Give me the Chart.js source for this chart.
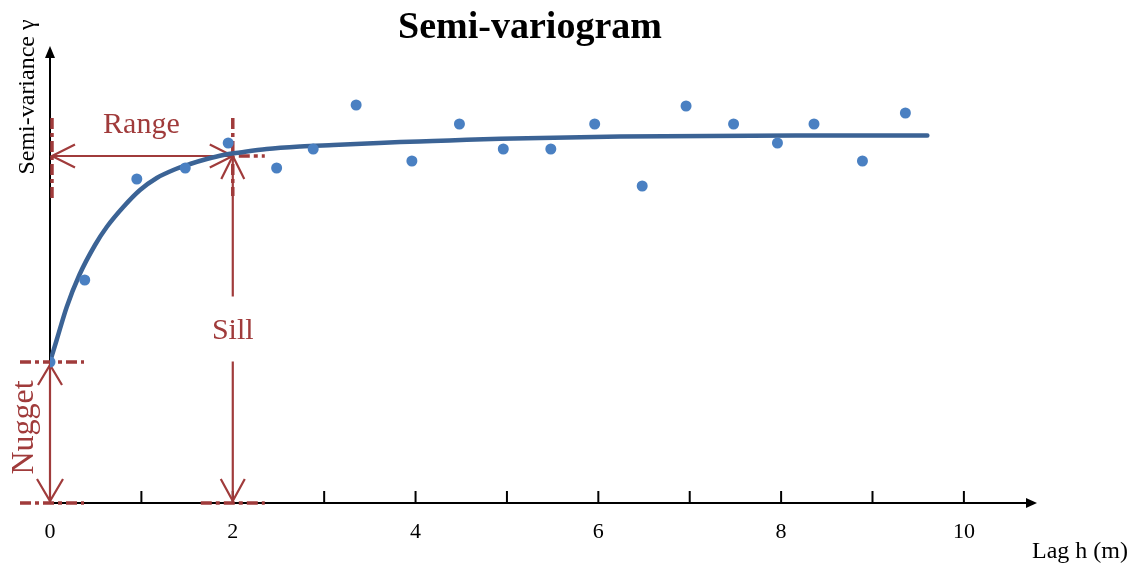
<!DOCTYPE html>
<html>
<head>
<meta charset="utf-8">
<script src="https://cdn.jsdelivr.net/npm/chart.js@4.4.1/dist/chart.umd.min.js"></script>
<style>
html,body{margin:0;padding:0;background:#fff;}
#wrap{width:1139px;height:568px;position:relative;}
</style>
</head>
<body>
<div id="wrap"><canvas id="c" width="1139" height="568"></canvas></div>
<script>
// ---- data ----
const lagObs   = [0, 0.38, 0.95, 1.48, 1.95, 2.48, 2.88, 3.35, 3.96, 4.48, 4.96, 5.48, 5.96, 6.48, 6.96, 7.48, 7.96, 8.36, 8.89, 9.36];
const gammaObs = [1.41, 2.23, 3.24, 3.35, 3.60, 3.35, 3.54, 3.98, 3.42, 3.79, 3.54, 3.54, 3.79, 3.17, 3.97, 3.79, 3.60, 3.79, 3.42, 3.90];
const lagModel   = [0, 0.073, 0.183, 0.321, 0.493, 0.621, 0.802, 0.985, 1.168, 1.35, 1.533, 1.715, 1.897, 2.08, 2.37, 2.74, 3.1, 3.47, 3.83, 4.19, 4.56, 4.93, 6.24, 8.21, 9.6];
const gammaModel = [1.41, 1.63, 1.96, 2.28, 2.58, 2.76, 2.96, 3.13, 3.25, 3.33, 3.39, 3.44, 3.48, 3.505, 3.54, 3.565, 3.58, 3.595, 3.61, 3.62, 3.632, 3.642, 3.665, 3.675, 3.675];
const xTickLabels = ['0', '2', '4', '6', '8', '10'];
const nuggetValue = 1.41;
const rangeValue = 2;
const sillValue = 3.47;

const RED = '#a03b3b';
const SERIF = '"Liberation Serif", "Times New Roman", serif';

function pts(xs, ys){ return xs.map((v,i)=>({x:v, y:ys[i]})); }

function line(ctx,x1,y1,x2,y2){ ctx.beginPath(); ctx.moveTo(x1,y1); ctx.lineTo(x2,y2); ctx.stroke(); }
function openHead(ctx, tx, ty, dx, dy, back, spread){
  const px = -dy, py = dx;
  ctx.beginPath();
  ctx.moveTo(tx - dx*back + px*spread, ty - dy*back + py*spread);
  ctx.lineTo(tx, ty);
  ctx.lineTo(tx - dx*back - px*spread, ty - dy*back - py*spread);
  ctx.stroke();
}

const annot = {
  id: 'annot',
  beforeDatasetsDraw(chart){
    const {ctx, scales:{x, y}, chartArea} = chart;
    const x0 = x.getPixelForValue(0), y0 = y.getPixelForValue(0);
    const xEnd = chartArea.right, yTop = chartArea.top;
    ctx.save();
    // axes
    ctx.strokeStyle = '#000'; ctx.fillStyle = '#000'; ctx.lineWidth = 2;
    line(ctx, x0, y0, xEnd - 6, y0);
    line(ctx, x0, y0, x0, yTop + 6);
    ctx.beginPath(); ctx.moveTo(xEnd, y0); ctx.lineTo(xEnd-11, y0-5); ctx.lineTo(xEnd-11, y0+5); ctx.closePath(); ctx.fill();
    ctx.beginPath(); ctx.moveTo(x0, yTop); ctx.lineTo(x0-5, yTop+12); ctx.lineTo(x0+5, yTop+12); ctx.closePath(); ctx.fill();
    // tick marks (upward)
    x.ticks.forEach(t => {
      if (Number.isInteger(t.value) && t.value > 0) {
        const px = x.getPixelForValue(t.value);
        line(ctx, px, y0, px, y0 - 12);
      }
    });

    const xr = x.getPixelForValue(rangeValue);
    const ys = y.getPixelForValue(sillValue);
    const yn = y.getPixelForValue(nuggetValue);

    // dashed guides
    ctx.strokeStyle = RED; ctx.lineWidth = 3.5;
    ctx.setLineDash([11,4,4,4]);
    line(ctx, x0 + 2, ys - 38, x0 + 2, ys + 42);
    line(ctx, xr, ys - 38, xr, ys + 40);
    line(ctx, xr + 6, ys, xr + 32, ys);
    line(ctx, x0 - 30, yn, x0 + 34, yn);
    line(ctx, x0 - 30, y0, x0 + 34, y0);
    line(ctx, xr - 32, y0, xr + 32, y0);
    ctx.setLineDash([]);

    // Range arrow
    ctx.lineWidth = 2.2;
    line(ctx, x0 + 2, ys, xr, ys);
    openHead(ctx, x0 + 2, ys, -1, 0, 23, 11.5);
    openHead(ctx, xr, ys, 1, 0, 23, 11.5);

    // Sill arrow (with gap for label)
    const yLab = y.getPixelForValue(sillValue / 2 - 0.02);
    line(ctx, xr, ys, xr, yLab - 35);
    line(ctx, xr, yLab + 30, xr, y0);
    openHead(ctx, xr, ys, 0, -1, 23, 11.5);
    openHead(ctx, xr, y0 - 2, 0, 1, 22, 12);

    // Nugget arrow
    line(ctx, x0, yn, x0, y0);
    openHead(ctx, x0, yn + 3, 0, -1, 20, 12);
    openHead(ctx, x0, y0 - 2, 0, 1, 22, 13);

    // labels
    ctx.fillStyle = RED;
    ctx.textAlign = 'center'; ctx.textBaseline = 'alphabetic';
    ctx.font = '30px ' + SERIF;
    ctx.fillText('Range', (x0 + xr) / 2, ys - 23);
    ctx.textBaseline = 'middle';
    ctx.fillText('Sill', xr, yLab);
    ctx.save();
    ctx.translate(33, (yn + y0) / 2 - 5);
    ctx.rotate(-Math.PI/2);
    ctx.textBaseline = 'alphabetic';
    ctx.font = '32px ' + SERIF;
    ctx.fillText('Nugget', 0, 0);
    ctx.restore();
    ctx.restore();
  },
  afterDraw(chart){
    const {ctx} = chart;
    ctx.save();
    ctx.fillStyle = '#000';
    ctx.textAlign = 'center'; ctx.textBaseline = 'alphabetic';
    ctx.font = 'bold 38px ' + SERIF;
    ctx.fillText('Semi-variogram', 530, 38);
    ctx.font = '24px ' + SERIF;
    ctx.fillText('Lag h (m)', 1080, 558);
    ctx.save();
    ctx.translate(34, 97);
    ctx.rotate(-Math.PI/2);
    ctx.fillText('Semi-variance γ', 0, 0);
    ctx.restore();
    ctx.restore();
  }
};

new Chart(document.getElementById('c'), {
  type: 'scatter',
  data: {
    datasets: [
      {
        type: 'line',
        label: 'Model',
        data: pts(lagModel, gammaModel),
        borderColor: '#3b6395',
        borderWidth: 4.5,
        pointRadius: 0,
        cubicInterpolationMode: 'monotone',
        fill: false,
        borderCapStyle: 'round',
        order: 2
      },
      {
        label: 'Observed',
        data: pts(lagObs, gammaObs),
        backgroundColor: '#4a80c2',
        borderColor: '#4a80c2',
        pointRadius: 5.5,
        borderWidth: 0,
        order: 1
      }
    ]
  },
  options: {
    responsive: false,
    animation: false,
    layout: { padding: { left: 50, right: 102, top: 46, bottom: 0 } },
    plugins: { legend: { display: false }, tooltip: { enabled: false }, title: { display: false } },
    scales: {
      x: {
        type: 'linear', min: 0, max: 10.8,
        grid: { display: false, drawTicks: false },
        border: { display: false },
        afterFit(s){ s.height = 65; },
        ticks: {
          stepSize: 1, autoSkip: false, maxRotation: 0, padding: 16, includeBounds: false,
          color: '#000',
          font: { family: SERIF, size: 22 },
          callback(v){ const s = String(v); return xTickLabels.includes(s) ? s : ''; }
        }
      },
      y: {
        display: false, min: 0, max: 4.57
      }
    }
  },
  plugins: [annot]
});
</script>
</body>
</html>
